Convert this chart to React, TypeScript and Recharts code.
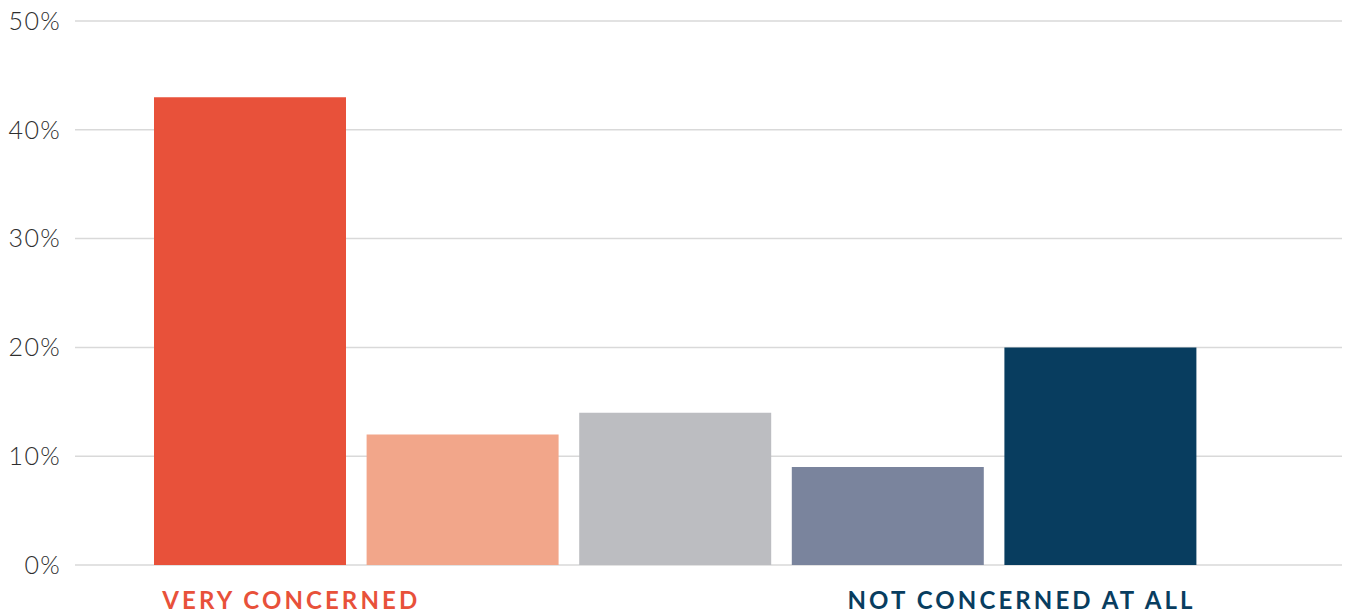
import React from "react";
import { BarChart, Bar, XAxis, YAxis, CartesianGrid, Cell } from "recharts";

const categories = ["1", "2", "3", "4", "5"];
const values = [43, 12, 14, 9, 20];
const colors = ["#E8513A", "#F2A68A", "#BCBDC1", "#7A849D", "#083D5F"];
const tickLabels = ["VERY CONCERNED", "", "", "", "NOT CONCERNED AT ALL"];
const labelColors = ["#E8513A", "", "", "", "#083D5F"];
const yTicks = [0, 10, 20, 30, 40, 50];

const data = categories.map((c, i) => ({ cat: c, value: values[i] }));

// first label hangs off the bar's left edge, last one is right aligned to its bar
const CategoryTick = (props: any) => {
  const { x, y, index } = props;
  const label = tickLabels[index];
  if (!label) return null;
  const first = index === 0;
  return (
    <text
      x={first ? x - 88 : x + 95}
      y={y + 36}
      textAnchor={first ? "start" : "end"}
      fill={labelColors[index]}
      fontFamily="Lato, sans-serif"
      fontWeight={700}
      fontSize={24}
      letterSpacing={3.1}
    >
      {label}
    </text>
  );
};

export default function App() {
  return (
    <div style={{ position: "absolute", left: 0, top: 0 }}>
      <BarChart
        width={1346}
        height={613}
        data={data}
        margin={{ top: 21, right: 4, left: 0, bottom: 0 }}
        barSize={192}
      >
        <CartesianGrid vertical={false} stroke="#d9d9d9" strokeWidth={1.5} />
        <XAxis
          dataKey="cat"
          axisLine={false}
          tickLine={false}
          height={48}
          padding={{ left: 69, right: 135 }}
          interval={0}
          tick={<CategoryTick />}
        />
        <YAxis
          width={75}
          domain={[0, 50]}
          ticks={yTicks}
          axisLine={false}
          tickLine={false}
          tickMargin={8}
          tickFormatter={(v: number) => `${v}%`}
          tick={{ fill: "#2e2e2e", fontSize: 25, fontFamily: "Lato, sans-serif", fontWeight: 300, letterSpacing: 1.3 }}
        />
        <Bar dataKey="value" isAnimationActive={false}>
          {data.map((d, i) => (
            <Cell key={d.cat} fill={colors[i]} />
          ))}
        </Bar>
      </BarChart>
    </div>
  );
}
